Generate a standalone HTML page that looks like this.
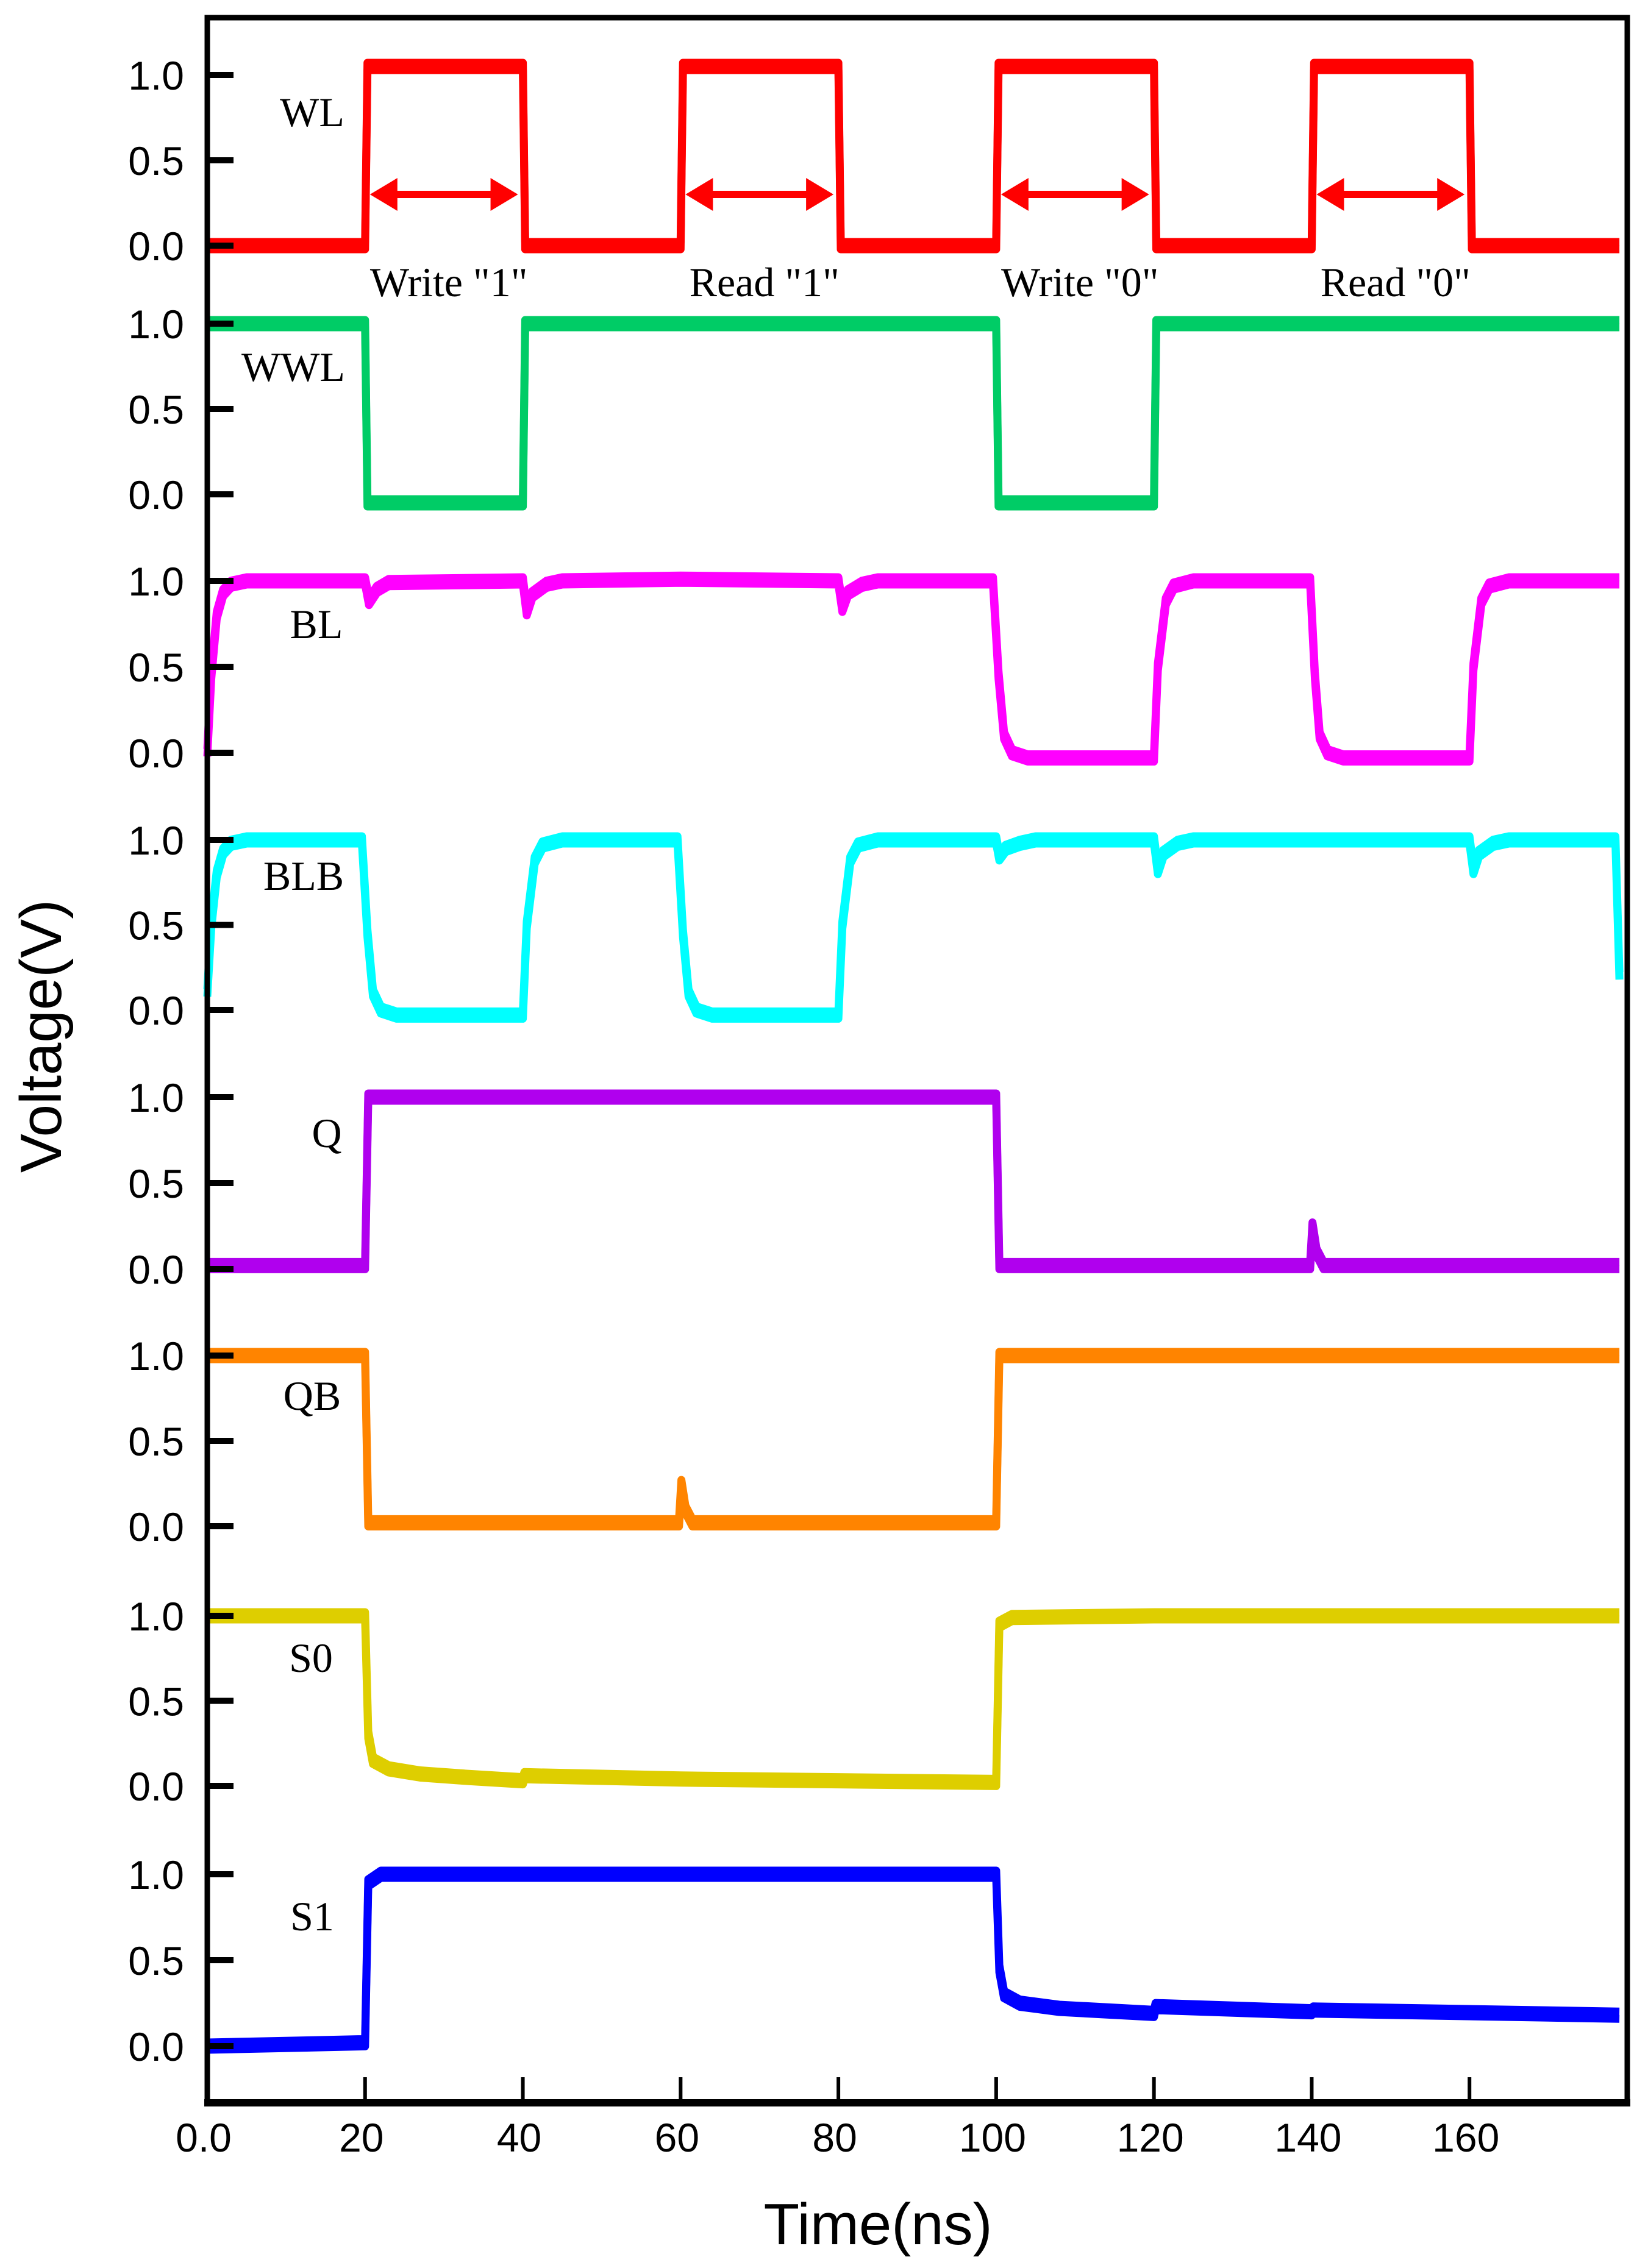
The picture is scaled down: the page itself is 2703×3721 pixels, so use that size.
<!DOCTYPE html>
<html><head><meta charset="utf-8"><style>
html,body{margin:0;padding:0;background:#fff}
svg{display:block}
.tl{font-family:"Liberation Sans",sans-serif;font-size:66px;fill:#000}
.sl{font-family:"Liberation Serif",serif;font-size:68px;fill:#000}
</style></head><body>
<svg id="chart" width="2703" height="3721" viewBox="0 0 2703 3721" xmlns="http://www.w3.org/2000/svg">
<g id="plot"></g>
<text class="tl" transform="translate(100,1700) rotate(-90)" text-anchor="middle" style="font-size:96px">Voltage(V)</text>
<text class="tl" x="1440" y="3682" text-anchor="middle" style="font-size:96px">Time(ns)</text>
</svg>
<script>
const xTicks=[20,40,60,80,100,120,140,160];
const xTickLabels=["0.0","20","40","60","80","100","120","140","160"];
const yTickVals=[0,0.5,1.0];
const yTickLabels=["0.0","0.5","1.0"];
const signalNames=["WL","WWL","BL","BLB","Q","QB","S0","S1"];
const colors=["#ff0000","#00cc66","#ff00ff","#00ffff","#b000ee","#ff8400","#dece00","#0000ff"];
const zeroY=[403,811,1235,1657,2082,2504,2930,3357];
const oneY=[123,531,953,1378,1800,2224,2651,3075];
const labelPos=[[512,207],[481,625],[519,1047],[498,1460],[536,1882],[512,2313],[510,2743],[512,3167]];
const opLabels=["Write \"1\"","Read \"1\"","Write \"0\"","Read \"0\""];
const opStart=[20,60,100,140];
const opEnd=[40,80,120,160];
const arrowV=0.3;

const wlT=[0,20,20.3,40,40.3,60,60.3,80,80.3,100,100.3,120,120.3,140,140.3,160,160.3,179];
const wlV=[0,0,1.05,1.05,0,0,1.05,1.05,0,0,1.05,1.05,0,0,1.05,1.05,0,0];
const wwlT=[0,20,20.3,40,40.3,100,100.3,120,120.3,179];
const wwlV=[1,1,-0.05,-0.05,1,1,-0.05,-0.05,1,1];
const blT=[0,0.5,1.2,2,3,5,20,20.5,21.5,23,40,40.5,41.2,43,45,60,80,80.5,81.2,83,85,99.6,100.3,101,102,104,120,120.5,121.5,122.5,125,139.8,140.4,141,142,144,160,160.5,161.5,162.5,165,179];
const blV=[0,0.45,0.8,0.93,0.98,1.0,1.0,0.88,0.95,0.99,1.0,0.82,0.92,0.98,1.0,1.01,1.0,0.84,0.93,0.98,1.0,1.0,0.45,0.1,0.0,-0.03,-0.03,0.5,0.88,0.97,1.0,1.0,0.45,0.1,0.0,-0.03,-0.03,0.5,0.88,0.97,1.0,1.0];
const blbT=[0,0.5,1.2,2,3,5,19.6,20.3,21,22,24,40,40.5,41.5,42.5,45,59.6,60.3,61,62,64,80,80.5,81.5,82.5,85,100,100.4,101.2,103,105,120,120.5,121.2,123,125,160,160.5,161.2,163,165,178.5,179];
const blbV=[0.1,0.5,0.8,0.93,0.98,1.0,1.0,0.45,0.1,0.0,-0.03,-0.03,0.5,0.88,0.97,1.0,1.0,0.45,0.1,0.0,-0.03,-0.03,0.5,0.88,0.97,1.0,1.0,0.9,0.95,0.98,1.0,1.0,0.82,0.92,0.98,1.0,1.0,0.82,0.92,0.98,1.0,1.0,0.2];
const qT=[0,20,20.4,100,100.4,139.8,140.1,140.6,141.5,179];
const qV=[0.02,0.02,1.0,1.0,0.02,0.02,0.25,0.1,0.02,0.02];
const qbT=[0,20,20.4,59.8,60.1,60.6,61.5,100,100.4,179];
const qbV=[1.0,1.0,0.02,0.02,0.25,0.1,0.02,0.02,1.0,1.0];
const s0T=[0,20,20.4,21,23,27,33,40,40.2,60,80,100,100.4,102,120,179];
const s0V=[1.0,1.0,0.3,0.15,0.1,0.07,0.05,0.03,0.06,0.04,0.03,0.02,0.95,0.99,1.0,1.0];
const s1T=[0,20,20.4,22,100,100.4,101,103,108,120,120.2,140,140.2,179];
const s1V=[0.0,0.02,0.95,1.0,1.0,0.45,0.3,0.25,0.22,0.19,0.23,0.2,0.21,0.18];
const seriesT=[wlT,wwlT,blT,blbT,qT,qbT,s0T,s1T];
const seriesV=[wlV,wwlV,blV,blbV,qV,qbV,s0V,s1V];

const NS="http://www.w3.org/2000/svg";
const X0=340,X1=2669,T0=0,T1=180;
function xs(t){return X0+(t-T0)/(T1-T0)*(X1-X0);}
function ys(i,v){return zeroY[i]+(oneY[i]-zeroY[i])*v;}
const plot=document.getElementById('plot');
function mk(tag,attrs){const e=document.createElementNS(NS,tag);for(const k in attrs)e.setAttribute(k,attrs[k]);return e;}

for(let i=0;i<signalNames.length;i++){
  const g=mk('g',{});
  
  
  let d='';
  for(let k=0;k<seriesT[i].length;k++){d+=(k?'L':'M')+xs(seriesT[i][k]).toFixed(1)+','+ys(i,seriesV[i][k]).toFixed(1);}
  [-6,6].forEach(off=>{
    const p=mk('path',{d:d,fill:'none',stroke:colors[i],'stroke-width':13,'stroke-linejoin':'round',transform:'translate(0,'+off+')'});
    
    
    g.appendChild(p);
  });
  plot.appendChild(g);
  const lb=mk('text',{x:labelPos[i][0],y:labelPos[i][1],'text-anchor':'middle',class:'sl'});
  
  
  lb.textContent=signalNames[i];
  plot.appendChild(lb);
  for(let k=0;k<yTickVals.length;k++){
    const y=ys(i,yTickVals[k]);
    const tk=mk('line',{x1:X0,x2:X0+43,y1:y,y2:y,stroke:'#000','stroke-width':10});
    
    
    plot.appendChild(tk);
    const tl=mk('text',{x:302,y:y+24,'text-anchor':'end',class:'tl'});
    
    
    tl.textContent=yTickLabels[k];
    plot.appendChild(tl);
  }
}
for(let k=0;k<opLabels.length;k++){
  const xa=xs(opStart[k])+8,xb=xs(opEnd[k])-8,y=ys(0,arrowV);
  const g=mk('g',{});
  
  
  g.appendChild(mk('line',{x1:xa+40,x2:xb-40,y1:y,y2:y,stroke:'#ff0000','stroke-width':12}));
  g.appendChild(mk('polygon',{points:`${xa},${y} ${xa+45},${y-27} ${xa+45},${y+27}`,fill:'#ff0000'}));
  g.appendChild(mk('polygon',{points:`${xb},${y} ${xb-45},${y-27} ${xb-45},${y+27}`,fill:'#ff0000'}));
  plot.appendChild(g);
  const t=mk('text',{x:(xs(opStart[k])+xs(opEnd[k]))/2+8,y:486,'text-anchor':'middle',class:'sl'});
  
  
  t.textContent=opLabels[k];
  plot.appendChild(t);
}
for(let k=0;k<xTicks.length;k++){
  const x=xs(xTicks[k]);
  const tk=mk('line',{x1:x,x2:x,y1:3450,y2:3408,stroke:'#000','stroke-width':6});
  
  
  plot.appendChild(tk);
}
const xtv=[0].concat(xTicks);
for(let k=0;k<xTickLabels.length;k++){
  const tl=mk('text',{x:xs(xtv[k])-6,y:3530,'text-anchor':'middle',class:'tl'});
  
  
  tl.textContent=xTickLabels[k];
  plot.appendChild(tl);
}
const fr=mk('rect',{x:X0,y:29,width:X1-X0,height:3450-29,fill:'none',stroke:'#000','stroke-width':9});


plot.appendChild(fr);
const bx=mk('line',{x1:X0-5,x2:X1+5,y1:3450,y2:3450,stroke:'#000','stroke-width':12});


plot.appendChild(bx);
</script>
</body></html>
